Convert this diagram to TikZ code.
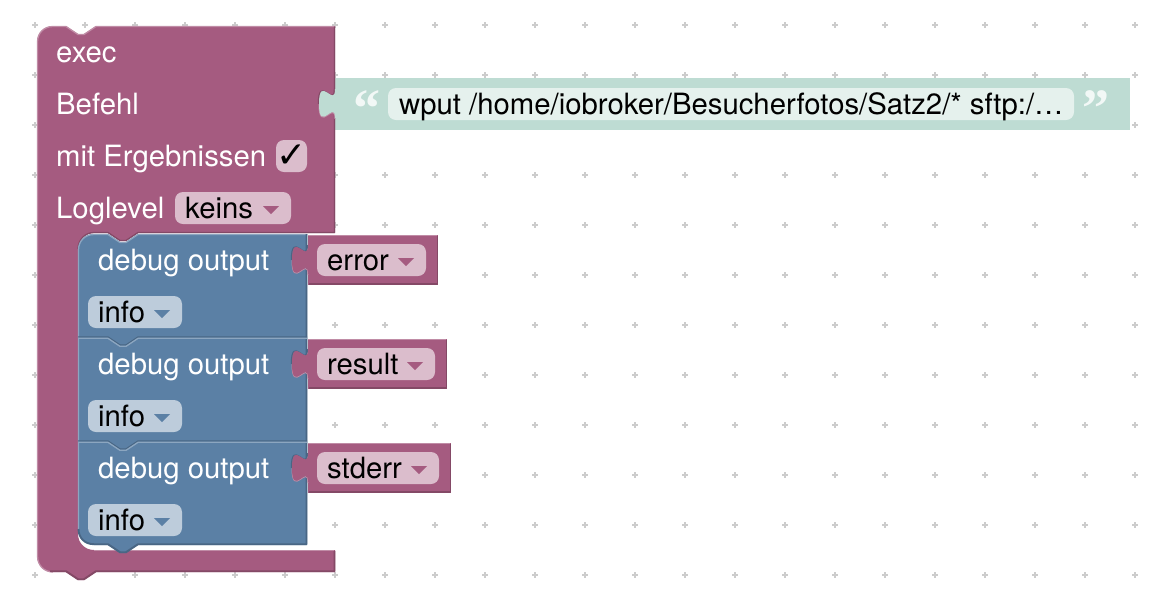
\documentclass[tikz,border=0pt]{standalone}
\usepackage{fontspec}
\setmainfont{TeX Gyre Heros}
\newfontfamily\checkfont{DejaVu Sans Bold}
\newfontfamily\quotefont{Liberation Serif}[BoldFont=Liberation Serif Bold]
\definecolor{plum}{HTML}{A55B80}
\definecolor{plumlight}{HTML}{C08CA6}
\definecolor{plumdark}{HTML}{844966}
\definecolor{plumpill}{HTML}{DBBDCC}
\definecolor{steel}{HTML}{5B80A5}
\definecolor{steellight}{HTML}{8CA6C0}
\definecolor{steeldark}{HTML}{496684}
\definecolor{steelpill}{HTML}{BDCCDB}
\definecolor{mint}{HTML}{BEDCD3}
\definecolor{mintpill}{HTML}{E5F1ED}
\tikzset{
  blocktext/.style={anchor=base west, inner sep=0pt, font=\fontsize{29.3}{32}\selectfont},
  labeltext/.style={blocktext, text=white},
  quotemark/.style={text=white, text opacity=0.8, inner sep=0pt, font=\quotefont\bfseries\fontsize{54}{54}\selectfont},
  edge/.style={line width=1.3pt, line join=round},
  heavyedge/.style={line width=1.9pt, line join=round},
}
% puzzle tab of a value block: right edge x, top y, fill, dark rim, light rim
\newcommand{\valuetab}[5]{
  \draw[#4, line width=1.2pt] (#1-0.6,#2) .. controls (#1-0.6,#2+20) and (#1-16.6,#2-16) .. (#1-16.6,#2+15);
  \draw[#5, line width=1pt] (#1-16,#2+15) .. controls (#1-16,#2+46) and (#1,#2+10) .. (#1,#2+30);
  \fill[#3] (#1+1,#2) -- (#1,#2) .. controls (#1,#2+20) and (#1-16,#2-16) .. (#1-16,#2+15)
    .. controls (#1-16,#2+45) and (#1,#2+10) .. (#1,#2+29) -- (#1+1,#2+29) -- cycle;
}
% dropdown triangle: right edge and top of its pill, colour
\newcommand{\droparrow}[3]{
  \fill[#3] (#1-28,#2+14) -- (#1-12,#2+14) -- (#1-20,#2+22) -- cycle;
}
\begin{document}
\begin{tikzpicture}[x=1pt,y=-1pt]
\useasboundingbox (0,0) rectangle (1162,606);

% Workspace dots
\foreach \x in {35,85,...,1135}
  \foreach \y in {25,75,...,575} {
    \draw[line width=1.9pt, black!20] (\x-3,\y) -- (\x+3,\y) (\x,\y-3) -- (\x,\y+3);
  }

% Text block with its quotes
\fill[mint] (335,78) rectangle (1130,130);
\fill[mintpill, rounded corners=8] (388,88) rectangle (1074,120);
\node[quotemark] (quoteopen) at (367,109) {“};
\node[quotemark] (quoteclose) at (1095.5,109) {”};

% Exec block
\fill[plum] (37,42) .. controls (37,33) and (44,26) .. (53,26) -- (66,26) -- (78,34) -- (84,34) -- (96,26)
  -- (335,26) -- (335,233) -- (138,233) -- (126,241) -- (120,241) -- (108,233) -- (94,233)
  .. controls (85,233) and (78,240) .. (78,249) -- (78,534) .. controls (78,543) and (85,550) .. (94,550)
  -- (335,550) -- (335,572) -- (96,572) -- (84,580) -- (78,580) -- (66,572) -- (53,572)
  .. controls (44,572) and (37,565) .. (37,556) -- cycle;
\draw[plumlight, edge] (53,572) .. controls (44,572) and (37.5,565) .. (37.5,556) -- (37.5,42)
  .. controls (37.5,33) and (44,26.5) .. (53,26.5) -- (66,26.5) -- (78,34.5) -- (84,34.5) -- (96,26.5) -- (334,26.5);
\draw[plumlight, edge] (94,550.5) -- (334,550.5);
\draw[plumdark, edge] (334.5,27) -- (334.5,232.5) -- (138,232.5) -- (126,240.5) -- (120,240.5) -- (108,232.5) -- (94,232.5)
  .. controls (85,232.5) and (78,240) .. (78,249);
\draw[plumdark, heavyedge] (334.5,551) -- (334.5,571.2) -- (96,571.2) -- (84,579.2) -- (78,579.2) -- (66,571.2) -- (50,571.2);
\valuetab{335}{89}{mint}{plumdark}{plumlight}
\fill[plumpill, rounded corners=8] (276,140) rectangle (307,172);
\fill[plumpill, rounded corners=8] (175,192) rectangle (291,224);
\droparrow{291}{192}{plum}

% Debug output blocks
\fill[steel] (78,250) .. controls (78,241) and (85,234) .. (94,234) -- (108,234) -- (120,242) -- (126,242) -- (138,234)
  -- (307,234) -- (307,545) -- (138,545) -- (126,553) -- (120,553) -- (108,545) -- (94,545)
  .. controls (85,545) and (78,538) .. (78,529) -- cycle;
\draw[steellight, edge] (78.5,529) -- (78.5,250) .. controls (78.5,241) and (85,234.5) .. (94,234.5) -- (108,234.5)
  -- (120,242.5) -- (126,242.5) -- (138,234.5) -- (307,234.5);
\draw[steeldark, heavyedge] (306.5,234) -- (306.5,544.2) -- (138,544.2) -- (126,552.2) -- (120,552.2) -- (108,544.2) -- (94,544.2)
  .. controls (85,544.2) and (78.5,538) .. (78.5,529);
\foreach \y in {337,441} {
  \draw[steeldark, edge] (78,\y) -- (108,\y) -- (120,\y+8) -- (126,\y+8) -- (138,\y) -- (307,\y);
  \draw[steellight, edge] (78,\y+1.3) -- (108,\y+1.3) -- (120,\y+9.3) -- (126,\y+9.3) -- (138,\y+1.3) -- (307,\y+1.3);
}
\foreach \y in {0,104,208} {
  \fill[steelpill, rounded corners=8] (88,296+\y) rectangle (182,328+\y);
  \droparrow{182}{296+\y}{steel}
}

% Value blocks at the debug inputs
\foreach \y/\r in {0/438,104/447,208/451} {
  \fill[plum] (308,235+\y) rectangle (\r,285+\y);
  \draw[plumlight, edge] (308,235.5+\y) -- (\r-1,235.5+\y);
  \draw[plumdark, heavyedge] (\r-0.5,236+\y) -- (\r-0.5,284.2+\y) -- (309,284.2+\y);
  \valuetab{308}{245+\y}{plum}{steeldark}{plumlight}
  \fill[plumpill, rounded corners=8] (317,244+\y) rectangle (\r-12,276+\y);
  \droparrow{\r-12}{244+\y}{plum}
}

% Labels
\node[labeltext] (execlabel) at (56,62) {exec};
\node[labeltext] (befehllabel) at (56,114) {Befehl};
\node[labeltext] (ergebnislabel) at (56,166) {mit Ergebnissen};
\node[labeltext] (loglabel) at (56,218) {Loglevel};
\node[blocktext] (cmdtext) at (399,114) {wput /home/iobroker/Besucherfotos/Satz2/* sftp:/…};
\node[inner sep=0pt, font=\checkfont\fontsize{36}{36}\selectfont] (checkmark) at (291.5,156) {✓};
\node[blocktext] (keinstext) at (185,218) {keins};
\foreach \y/\name/\val in {0/a/error,104/b/result,208/c/stderr} {
  \node[labeltext] (debug\name) at (98,270+\y) {debug output};
  \node[blocktext] (info\name) at (98,322+\y) {info};
  \node[blocktext] (val\name) at (327,270+\y) {\val};
}
\end{tikzpicture}
\end{document}
